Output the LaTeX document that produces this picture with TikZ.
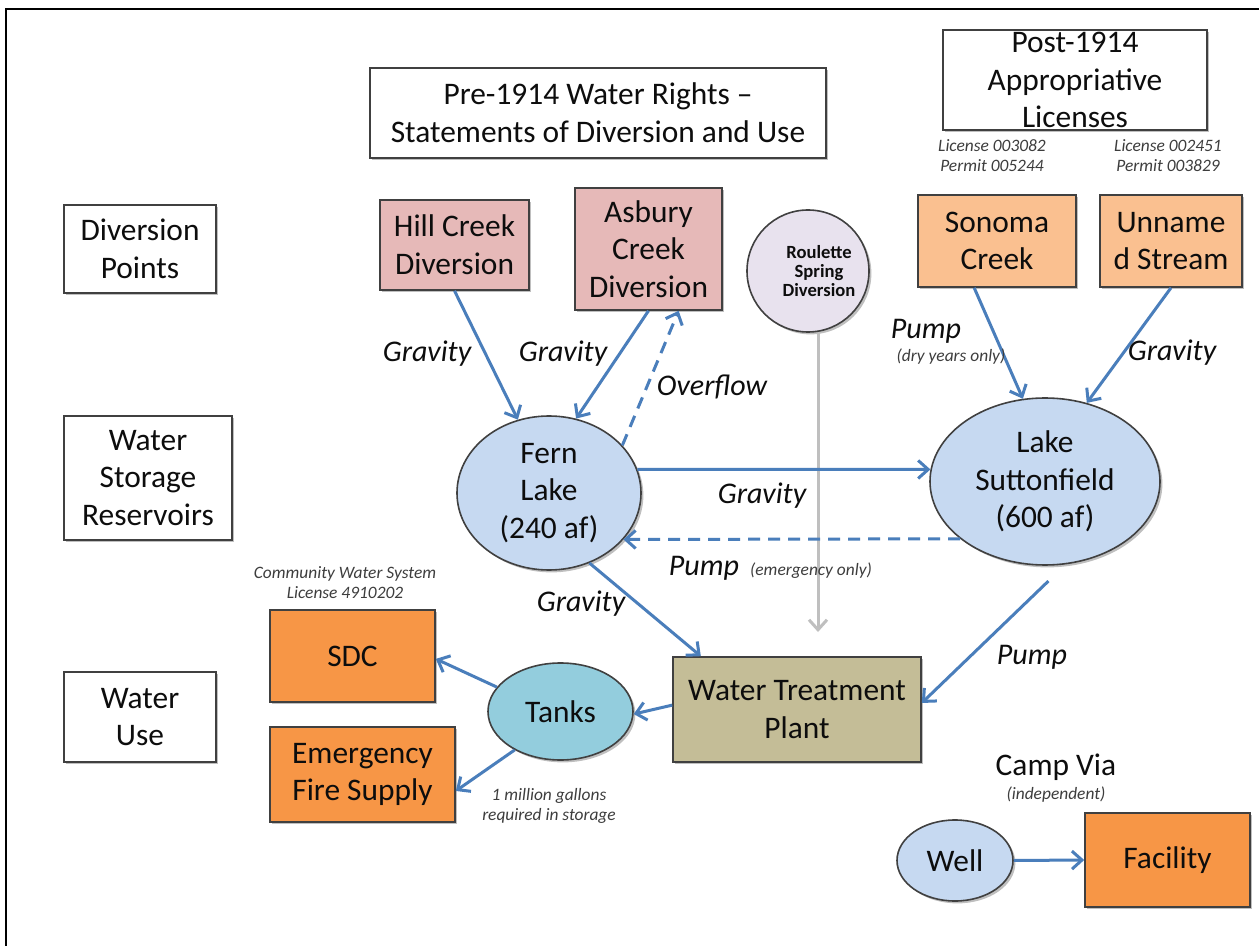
\documentclass[tikz,border=0pt]{standalone}
\usepackage{fontspec}
\setmainfont{Carlito}
\usetikzlibrary{arrows.meta,shapes.geometric,shadows}
\definecolor{pinkfill}{HTML}{E6B9B8}
\definecolor{peachfill}{HTML}{FAC090}
\definecolor{orangefill}{HTML}{F79646}
\definecolor{lavfill}{HTML}{E8E2EE}
\definecolor{lakefill}{HTML}{C6D9F1}
\definecolor{tankfill}{HTML}{93CDDD}
\definecolor{tanfill}{HTML}{C4BD97}
\definecolor{flowblue}{HTML}{4A7EBB}
\definecolor{edgegray}{HTML}{404040}
\definecolor{txt}{HTML}{0D0D0D}
\newcommand\myBig{\fontsize{15.7}{18.8}\selectfont}
\newcommand\myMid{\fontsize{15}{18}\selectfont\itshape}
\newcommand\mySmall{\fontsize{8.7}{10}\selectfont\itshape}
\tikzset{
  shd/.style={drop shadow={shadow xshift=1.2pt,shadow yshift=-1.2pt,opacity=0.25,fill=black}},
  lblbox/.style={draw=edgegray, fill=white, line width=0.8pt, align=center, font=\myBig, text=txt, inner sep=0pt, shd},
  pinkbox/.style={lblbox, fill=pinkfill},
  peachbox/.style={lblbox, fill=peachfill},
  orangebox/.style={lblbox, fill=orangefill},
  tanbox/.style={lblbox, fill=tanfill},
  lake/.style={ellipse, draw=edgegray, fill=lakefill, line width=0.8pt, align=center, font=\myBig, text=txt, inner sep=0pt, shd},
  flow/.style={draw=flowblue, line width=1.5pt, -{Straight Barb[length=5pt,width=9pt,line width=1.5pt]}},
  dflow/.style={flow, dash pattern=on 6pt off 4pt},
  gflow/.style={draw=black!25, line width=1.5pt, -{Straight Barb[length=5pt,width=9pt,line width=1.5pt]}},
  flab/.style={font=\myMid, text=txt, inner sep=0pt},
  note/.style={font=\mySmall, text=txt!80, align=center, inner sep=0pt},
}
\begin{document}
\begin{tikzpicture}[x=0.5pt,y=-0.5pt]
\useasboundingbox (0,0) rectangle (1259,946);
\fill[white] (0,0) rectangle (1259,946);
\draw[line width=1.3pt, black] (6,946) -- (6,9) -- (1259,9);

% category labels
\node[lblbox, minimum width=76pt, minimum height=44pt] (divpts) at (140,249) {Diversion\\Points};
\node[lblbox, minimum width=84pt, minimum height=62pt] (storage) at (148,478) {Water\\Storage\\Reservoirs};
\node[lblbox, minimum width=76pt, minimum height=45pt] (wuse) at (140,717) {Water\\Use};
\node[lblbox, minimum width=228pt, minimum height=45pt] (pre) at (598,113) {Pre-1914 Water Rights –\\Statements of Diversion and Use};
\node[lblbox, minimum width=132pt, minimum height=50pt] (post) at (1075,80) {Post-1914\\Appropriative\\Licenses};

\node[note] (lic1) at (992,156) {License 003082\\Permit 005244};
\node[note] (lic2) at (1168,156) {License 002451\\Permit 003829};

% diversion points
\node[pinkbox, minimum width=74.5pt, minimum height=45pt] (hill) at (454.5,245) {Hill Creek\\Diversion};
\node[pinkbox, minimum width=73.5pt, minimum height=61pt] (asbury) at (648.5,249) {Asbury\\Creek\\Diversion};
\node[circle, draw=edgegray, fill=lavfill, line width=0.8pt, minimum size=61pt, inner sep=0pt, shd] (roulette) at (808,271) {};
\node[align=center, inner sep=0pt, text=txt, font=\fontsize{9.3}{9.4}\selectfont\bfseries] (rtext) at (819,271) {Roulette\\Spring\\Diversion};
\node[peachbox, minimum width=79pt, minimum height=46pt] (sonoma) at (997,241) {Sonoma\\Creek};
\node[peachbox, minimum width=71pt, minimum height=46pt] (unnamed) at (1171,241) {Unname\\d Stream};

% reservoirs
\node[lake, minimum width=92pt, minimum height=77pt] (fern) at (549,493) {Fern\\Lake\\(240 af)};
\node[lake, minimum width=115pt, minimum height=83.5pt] (sutton) at (1045,481.5) {Lake\\Suttonfield\\(600 af)};

% use
\node[orangebox, minimum width=82.5pt, minimum height=46pt] (sdc) at (352.5,656) {SDC};
\node[orangebox, minimum width=92.5pt, minimum height=47.5pt] (fire) at (362.5,774.5) {Emergency\\Fire Supply};
\node[lake, fill=tankfill, minimum width=72.5pt, minimum height=48.5pt] (tanks) at (560.5,711.5) {Tanks};
\node[tanbox, minimum width=124pt, minimum height=52.5pt] (wtp) at (797,709.5) {Water Treatment\\Plant};
\node[note] (cws) at (345,583) {Community Water System\\License 4910202};
\node[note] (million) at (549,806) {1 million gallons\\required in storage};

% camp via
\node[font=\myBig, text=txt, inner sep=0pt] (camp) at (1056,767) {Camp Via};
\node[note] (indep) at (1056,795) {(independent)};
\node[lake, minimum width=58pt, minimum height=40.5pt] (well) at (955,860.5) {Well};
\node[orangebox, minimum width=82.5pt, minimum height=47pt] (facility) at (1167.5,860) {Facility};

% connectors
\coordinate (rend) at (818,632);
\draw[gflow] (roulette.south -| rend) -- (rend);
\draw[flow] (hill.south) -- (fern.113);
\draw[flow] (asbury.south) -- (fern.70);
\draw[dflow] (fern.33) -- (asbury.296);
\draw[flow] (fern.15) -- (sutton.174);
\draw[dflow] (sutton.214) -- (fern.328);
\draw[flow] (fern.300) -- (wtp.151);
\draw[flow] (sonoma.244) -- (sutton.105);
\draw[flow] (unnamed.south) -- (sutton.62);
\draw[flow, shorten <=12pt] (sutton.284) -- (wtp.3);
\draw[flow] (wtp.178) -- (tanks.358);
\draw[flow] (tanks.159) -- (sdc.358);
\draw[flow] (tanks.220) -- (fire.350);
\draw[flow] (well.east) -- (facility.west);

% flow labels
\node[flab] (g1) at (427,354) {Gravity};
\node[flab] (g2) at (563,354) {Gravity};
\node[flab] (ov) at (712,387) {Overflow};
\node[flab] (g3) at (762,496) {Gravity};
\node[flab] (p1) at (704,568) {Pump};
\node[note] (p1n) at (811,571) {(emergency only)};
\node[flab] (g4) at (581,604) {Gravity};
\node[flab] (p2) at (926,331) {Pump};
\node[note] (p2n) at (951,357) {(dry years only)};
\node[flab] (g5) at (1172,353) {Gravity};
\node[flab] (p3) at (1032,657) {Pump};
\end{tikzpicture}
\end{document}
